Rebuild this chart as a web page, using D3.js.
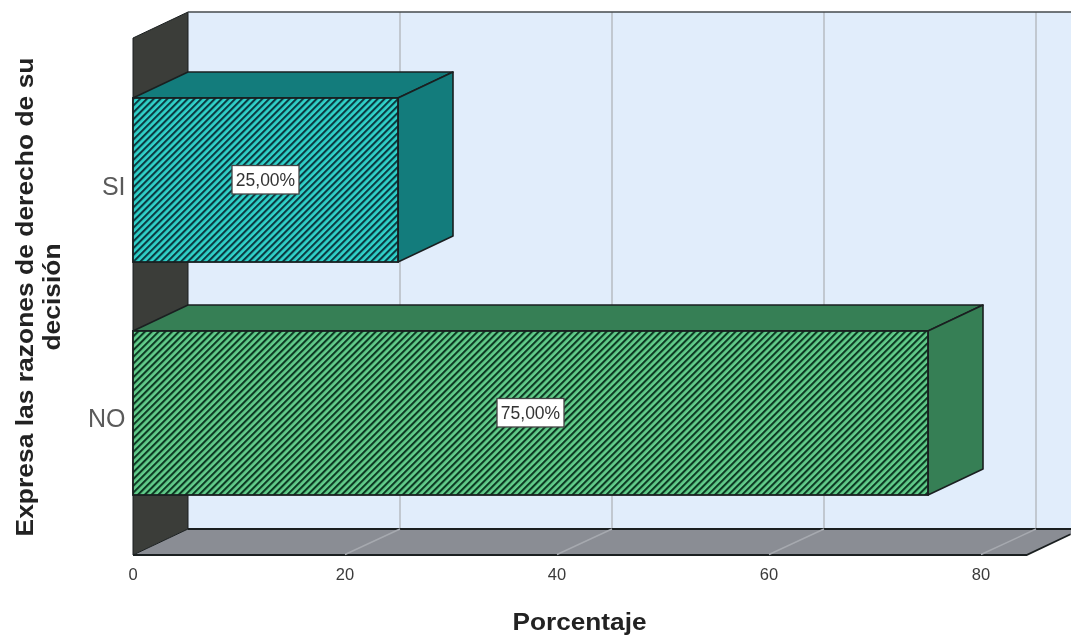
<!DOCTYPE html>
<html><head><meta charset="utf-8">
<script src="https://cdn.jsdelivr.net/npm/d3@7/dist/d3.min.js"></script>
<style>html,body{margin:0;background:#fff}svg{display:block;font-family:"Liberation Sans",Arial,sans-serif;filter:blur(0.45px)}</style>
</head><body><svg id="c" width="1071" height="635"></svg>
<script>
const categories = ["SI","NO"];
const values = [25,75];
const labels = ["25,00%","75,00%"];
const xTicks = [0,20,40,60,80];
const faceColors = ["#30d2ca","#62cd8b"];
const sideColors = ["#137c7c","#367f55"];
const stripeColors = ["#0a3a40","#0c3a22"];

const svg = d3.select("#c");
const dx = 55, dy = -26;
const left = 133, floorY = 555, topY = 38, axisMax = 84.3;
const x = d3.scaleLinear().domain([0,axisMax]).range([left,left+10.6*axisMax]);
const y = d3.scaleBand().domain(categories).range([topY,floorY]).paddingInner(0.296).paddingOuter(0.2575);
const line = d3.line();
const ink = "#1a1f20";

const defs = svg.append("defs");
categories.forEach((c,i)=>{
  const p = defs.append("pattern").attr("id","h"+i).attr("patternUnits","userSpaceOnUse")
    .attr("width",4.8).attr("height",4.8).attr("patternTransform","rotate(45)");
  p.append("rect").attr("width",4.8).attr("height",4.8).attr("fill",faceColors[i]);
  p.append("rect").attr("width",2.1).attr("height",4.8).attr("fill",stripeColors[i]);
});

// back wall
svg.append("rect").attr("x",x(0)+dx).attr("y",topY+dy).attr("width",1071-x(0)-dx).attr("height",floorY-topY)
  .attr("fill","#e1edfb");
// floor
svg.append("path").attr("d",line([[x(0),floorY],[x(0)+dx,floorY+dy],[x(axisMax)+dx,floorY+dy],[x(axisMax),floorY]])+"Z").attr("fill","#8a8d94");
// gridlines
svg.append("g").selectAll("path").data(xTicks.slice(1)).join("path")
  .attr("d",d=>line([[x(d)+dx,floorY+dy],[x(d)+dx,topY+dy]]))
  .attr("fill","none").attr("stroke","#b9bec6").attr("stroke-width",1.6);
// left wall
svg.append("path").attr("d",line([[x(0),topY],[x(0)+dx,topY+dy],[x(0)+dx,floorY+dy],[x(0),floorY]])+"Z")
  .attr("fill","#3b3d39").attr("stroke",ink).attr("stroke-width",1);
// frame lines
svg.append("path").attr("d",line([[x(0)+dx,topY+dy],[1071,topY+dy]])).attr("stroke","#444a4c").attr("stroke-width",1.6);
svg.append("path").attr("d",line([[x(0)+dx,floorY+dy],[1071,floorY+dy]])).attr("stroke",ink).attr("stroke-width",1.8);
svg.append("path").attr("d",line([[x(0),floorY],[x(axisMax),floorY],[x(axisMax)+44,floorY+dy*0.8]])).attr("fill","none").attr("stroke",ink).attr("stroke-width",1.8);
// floor grid
svg.append("g").selectAll("path").data(xTicks.slice(1)).join("path")
  .attr("d",d=>line([[x(d),floorY-0.5],[x(d)+dx,floorY+dy]]))
  .attr("stroke","#a6a9af").attr("stroke-width",1.4);

// bars
const bars = svg.append("g").selectAll("g").data(categories).join("g");
bars.each(function(c,i){
  const g = d3.select(this), x0=x(0), x1=x(values[i]), y0=y(c), y1=y0+y.bandwidth();
  g.append("path").attr("d",line([[x0,y0],[x0+dx,y0+dy],[x1+dx,y0+dy],[x1,y0]])+"Z")
    .attr("fill",sideColors[i]).attr("stroke",ink).attr("stroke-width",1.6).attr("stroke-linejoin","round");
  g.append("path").attr("d",line([[x1,y0],[x1+dx,y0+dy],[x1+dx,y1+dy],[x1,y1]])+"Z")
    .attr("fill",sideColors[i]).attr("stroke",ink).attr("stroke-width",1.6).attr("stroke-linejoin","round");
  g.append("rect").attr("x",x0).attr("y",y0).attr("width",x1-x0).attr("height",y1-y0)
    .attr("fill",`url(#h${i})`).attr("stroke",ink).attr("stroke-width",1.8);
  const cx=(x0+x1)/2, cy=(y0+y1)/2-0.5;
  g.append("rect").attr("x",cx-33.5).attr("y",cy-14).attr("width",67).attr("height",28.5)
    .attr("fill","#fff").attr("stroke","#444").attr("stroke-width",1.3);
  g.append("text").attr("x",cx).attr("y",cy+6.5).attr("text-anchor","middle")
    .attr("font-size",17.5).attr("fill","#333").text(labels[i]);
});

// x tick labels
svg.append("g").selectAll("text").data(xTicks).join("text")
  .attr("x",d=>x(d)).attr("y",580).attr("text-anchor","middle")
  .attr("font-size",16.5).attr("fill","#3a3a3a").text(d=>d);
// category labels
svg.append("g").selectAll("text").data(categories).join("text")
  .attr("x",125.5).attr("y",c=>y(c)+y.bandwidth()/2+14.5).attr("text-anchor","end")
  .attr("font-size",25).attr("fill","#5a5a5a").text(c=>c);
// titles
svg.append("text").attr("x",579.5).attr("y",630).attr("text-anchor","middle")
  .attr("font-size",24.5).attr("font-weight","bold").attr("fill","#222")
  .attr("textLength",134).attr("lengthAdjust","spacingAndGlyphs").text("Porcentaje");
const yt = svg.append("text").attr("transform","translate(0,297) rotate(-90)").attr("text-anchor","middle")
  .attr("font-size",24).attr("font-weight","bold").attr("fill","#222");
yt.append("tspan").attr("x",0).attr("y",33).attr("textLength",479).attr("lengthAdjust","spacingAndGlyphs").text("Expresa las razones de derecho de su");
yt.append("tspan").attr("x",0).attr("y",60).attr("textLength",107).attr("lengthAdjust","spacingAndGlyphs").text("decisión");
</script></body></html>
